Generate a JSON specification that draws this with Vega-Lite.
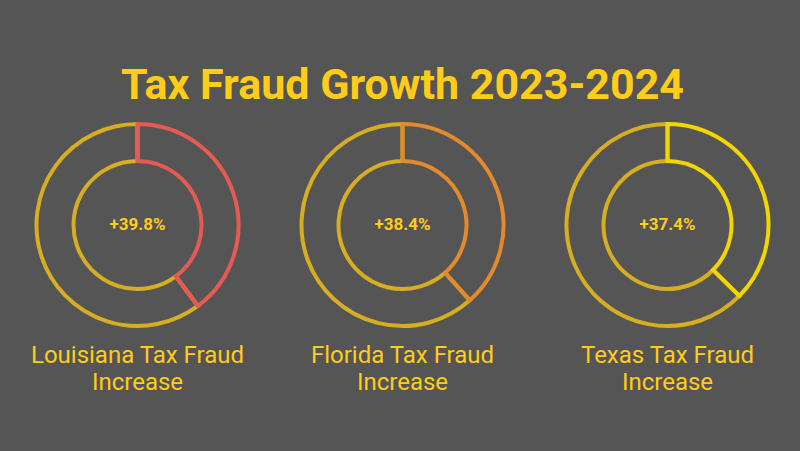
{
  "$schema": "https://vega.github.io/schema/vega-lite/v6.json",
  "background": "#555555",
  "padding": {"left": 5, "top": 65, "right": 0, "bottom": 60},
  "config": {
    "view": {"stroke": null},
    "font": "Roboto",
    "concat": {"spacing": 0}
  },
  "title": {
    "text": "Tax Fraud Growth 2023-2024",
    "font": "Roboto",
    "fontSize": 43,
    "fontWeight": "bold",
    "color": "#FFCC1A",
    "anchor": "middle",
    "offset": 8
  },
  "datasets": {
    "donuts": [
      {"state": "Louisiana", "segment": "rest", "part": "rest", "value": 60.2, "ord": 2},
      {"state": "Louisiana", "segment": "increase", "part": "Louisiana", "value": 39.8, "ord": 1},
      {"state": "Florida", "segment": "rest", "part": "rest", "value": 61.6, "ord": 2},
      {"state": "Florida", "segment": "increase", "part": "Florida", "value": 38.4, "ord": 1},
      {"state": "Texas", "segment": "rest", "part": "rest", "value": 62.6, "ord": 2},
      {"state": "Texas", "segment": "increase", "part": "Texas", "value": 37.4, "ord": 1}
    ],
    "centers": [
      {"state": "Louisiana", "label": "+39.8%"},
      {"state": "Florida", "label": "+38.4%"},
      {"state": "Texas", "label": "+37.4%"}
    ]
  },
  "hconcat": [
    {
      "width": 265,
      "height": 206,
      "title": {"text": ["Louisiana Tax Fraud", "Increase"], "orient": "bottom", "fontSize": 24, "fontWeight": "normal", "color": "#FFCC1A", "font": "Roboto", "lineHeight": 27, "offset": 10, "anchor": "middle"},
      "layer": [
        {
          "data": {"name": "donuts"},
          "transform": [{"filter": "datum.state == 'Louisiana'"}],
          "mark": {"type": "arc", "outerRadius": 101, "innerRadius": 64, "fillOpacity": 0, "strokeWidth": 4, "strokeJoin": "miter"},
          "encoding": {
            "theta": {"field": "value", "type": "quantitative", "stack": true},
            "order": {"field": "ord", "type": "quantitative"},
            "stroke": {"field": "part", "type": "nominal", "legend": null, "scale": {"domain": ["rest", "Louisiana", "Florida", "Texas"], "range": ["#D6AE24", "#E55A52", "#E38A2E", "#F2D600"]}}
          }
        },
        {
          "data": {"name": "centers"},
          "transform": [{"filter": "datum.state == 'Louisiana'"}],
          "mark": {"type": "text", "fontSize": 17, "fontWeight": "bold", "color": "#FFCC1A", "font": "Roboto"},
          "encoding": {"text": {"field": "label", "type": "nominal"}}
        }
      ]
    },
    {
      "width": 265,
      "height": 206,
      "title": {"text": ["Florida Tax Fraud", "Increase"], "orient": "bottom", "fontSize": 24, "fontWeight": "normal", "color": "#FFCC1A", "font": "Roboto", "lineHeight": 27, "offset": 10, "anchor": "middle"},
      "layer": [
        {
          "data": {"name": "donuts"},
          "transform": [{"filter": "datum.state == 'Florida'"}],
          "mark": {"type": "arc", "outerRadius": 101, "innerRadius": 64, "fillOpacity": 0, "strokeWidth": 4, "strokeJoin": "miter"},
          "encoding": {
            "theta": {"field": "value", "type": "quantitative", "stack": true},
            "order": {"field": "ord", "type": "quantitative"},
            "stroke": {"field": "part", "type": "nominal", "legend": null, "scale": {"domain": ["rest", "Louisiana", "Florida", "Texas"], "range": ["#D6AE24", "#E55A52", "#E38A2E", "#F2D600"]}}
          }
        },
        {
          "data": {"name": "centers"},
          "transform": [{"filter": "datum.state == 'Florida'"}],
          "mark": {"type": "text", "fontSize": 17, "fontWeight": "bold", "color": "#FFCC1A", "font": "Roboto"},
          "encoding": {"text": {"field": "label", "type": "nominal"}}
        }
      ]
    },
    {
      "width": 265,
      "height": 206,
      "title": {"text": ["Texas Tax Fraud", "Increase"], "orient": "bottom", "fontSize": 24, "fontWeight": "normal", "color": "#FFCC1A", "font": "Roboto", "lineHeight": 27, "offset": 10, "anchor": "middle"},
      "layer": [
        {
          "data": {"name": "donuts"},
          "transform": [{"filter": "datum.state == 'Texas'"}],
          "mark": {"type": "arc", "outerRadius": 101, "innerRadius": 64, "fillOpacity": 0, "strokeWidth": 4, "strokeJoin": "miter"},
          "encoding": {
            "theta": {"field": "value", "type": "quantitative", "stack": true},
            "order": {"field": "ord", "type": "quantitative"},
            "stroke": {"field": "part", "type": "nominal", "legend": null, "scale": {"domain": ["rest", "Louisiana", "Florida", "Texas"], "range": ["#D6AE24", "#E55A52", "#E38A2E", "#F2D600"]}}
          }
        },
        {
          "data": {"name": "centers"},
          "transform": [{"filter": "datum.state == 'Texas'"}],
          "mark": {"type": "text", "fontSize": 17, "fontWeight": "bold", "color": "#FFCC1A", "font": "Roboto"},
          "encoding": {"text": {"field": "label", "type": "nominal"}}
        }
      ]
    }
  ]
}
